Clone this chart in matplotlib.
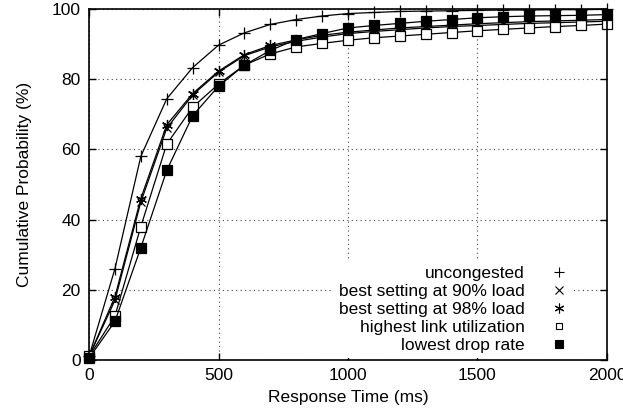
import matplotlib
matplotlib.use("Agg")
import matplotlib.pyplot as plt
from matplotlib.lines import Line2D

plt.rcParams['font.family'] = ['Liberation Sans', 'DejaVu Sans']

# Antwortzeiten in ms
times = [0, 100, 200, 300, 400, 500, 600, 700, 800, 900, 1000,
         1100, 1200, 1300, 1400, 1500, 1600, 1700, 1800, 1900, 2000]

uncongested = [1, 26, 58, 74.4, 83.3, 89.7, 93.2, 95.6, 97.0, 98.0, 98.7,
               99.0, 99.3, 99.4, 99.5, 99.6, 99.7, 99.7, 99.8, 99.8, 99.9]
best90 = [1, 17, 45, 66, 75.5, 82, 86.7, 89.2, 90.8, 92.0, 93.0,
          93.6, 94.1, 94.6, 95.0, 95.3, 95.6, 95.9, 96.1, 96.3, 96.5]
best98 = [1, 18, 46, 67, 75.9, 82.3, 87.0, 89.6, 91.2, 92.5, 93.4,
          94.0, 94.6, 95.0, 95.4, 95.8, 96.1, 96.4, 96.6, 96.8, 97.0]
highest_util = [1, 12.5, 38, 61.5, 72, 78.6, 84, 87.2, 89.2, 90.2, 91.1,
                91.8, 92.3, 92.8, 93.3, 93.8, 94.2, 94.6, 95.0, 95.3, 95.7]
lowest_drop = [0.5, 11, 32, 54, 69.6, 78, 84, 88.2, 91.3, 93.0, 94.6,
               95.3, 95.9, 96.5, 97.0, 97.5, 97.8, 98.0, 98.1, 98.2, 98.4]

labels = ['uncongested', 'best setting at 90% load', 'best setting at 98% load',
          'highest link utilization', 'lowest drop rate']

FS = 12.5

fig = plt.figure(figsize=(6.23, 4.16), dpi=100)
ax = fig.add_axes([0.1429, 0.1346, 0.8314, 0.8438])

# Gitter
ax.grid(True, color='#444444', linestyle=(0, (1, 3)), linewidth=0.8)
ax.set_axisbelow(True)

series = [
    (uncongested, dict(marker='+', ms=8, mew=0.9, mfc='none')),
    (best90, dict(marker='x', ms=6, mew=0.9, mfc='none')),
    (best98, dict(marker=(6, 2, 0), ms=8, mew=0.9, mfc='none')),
    (highest_util, dict(marker='s', ms=7, mew=0.9, mfc='white')),
    (lowest_drop, dict(marker='s', ms=7, mew=0.9, mfc='black')),
]
for vals, st in series:
    ax.plot(times, vals, color='black', lw=0.9, mec='black', **st, clip_on=False)

ax.set_xlim(0, 2000)
ax.set_ylim(0, 100)
ax.set_xticks([0, 500, 1000, 1500, 2000])
ax.set_yticks([0, 20, 40, 60, 80, 100])
ax.tick_params(direction='in', top=True, right=True, length=5, width=1, labelsize=FS, pad=6)
for s in ax.spines.values():
    s.set_linewidth(1.2)

ax.set_xlabel('Response Time (ms)', fontsize=FS, labelpad=5)
ax.set_ylabel('Cumulative Probability (%)', fontsize=FS, labelpad=14)

# Legende: Text rechtsbuendig, Symbol rechts
handles = [Line2D([], [], color='black', linestyle='none', marker='+', ms=7, mew=0.8),
           Line2D([], [], color='black', linestyle='none', marker='x', ms=5.5, mew=0.8),
           Line2D([], [], color='black', linestyle='none', marker=(6, 2, 0), ms=7, mew=0.8),
           Line2D([], [], color='black', linestyle='none', marker='s', ms=5, mew=0.8, mfc='white'),
           Line2D([], [], color='black', linestyle='none', marker='s', ms=6, mew=0.8, mfc='black')]
leg = ax.legend(handles, labels, loc='lower right', markerfirst=False, frameon=True,
                fontsize=FS, handlelength=1.0, handletextpad=1.5, labelspacing=0.16,
                borderpad=0.3, borderaxespad=0.0, bbox_to_anchor=(0.935, 0.005))
leg.get_frame().set_facecolor('white')
leg.get_frame().set_edgecolor('none')
leg.get_frame().set_alpha(1)
for t in leg.get_texts():
    t.set_ha('right')

fig.savefig('out.png', dpi=100)
